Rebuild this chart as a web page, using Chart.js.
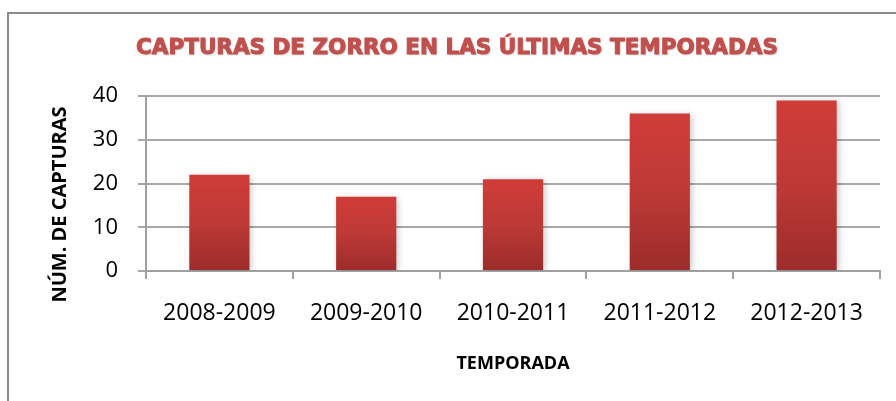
<!DOCTYPE html>
<html>
<head>
<meta charset="utf-8">
<script src="https://cdn.jsdelivr.net/npm/chart.js@4/dist/chart.umd.min.js"></script>
<style>
    body { margin: 0; background: #ffffff; }
    #wrap { position: relative; width: 896px; height: 401px; overflow: hidden; }
    #frame {
        position: absolute; left: 7px; top: 12px; width: 1000px; height: 1000px;
        border-left: 2px solid #8c8c8c; border-top: 2px solid #8c8c8c;
    }
    #capturas-chart { position: absolute; left: 0; top: 0; }
</style>
</head>
<body>
<div id="wrap">
    <div id="frame"></div>
    <canvas id="capturas-chart" width="896" height="401"></canvas>
</div>
<script>
let temporadas = ["2008-2009", "2009-2010", "2010-2011", "2011-2012", "2012-2013"];
let capturas = [22, 17, 21, 36, 39];
let yTicks = [0, 10, 20, 30, 40];

let chartTitle = "CAPTURAS DE ZORRO EN LAS ÚLTIMAS TEMPORADAS";
let yTitle = "NÚM. DE CAPTURAS";
let xTitle = "TEMPORADA";

// degradado por barra: rojo claro arriba, oscuro abajo
function barGradient(context) {
    let chart = context.chart;
    let y = chart.scales.y;
    if (!chart.chartArea || !y) return "#c0392f";
    let top = y.getPixelForValue(context.raw);
    let bottom = y.getPixelForValue(0);
    let g = chart.ctx.createLinearGradient(0, top, 0, bottom);
    g.addColorStop(0, "#d03c38");
    g.addColorStop(0.5, "#bd3936");
    g.addColorStop(1, "#9c2c2a");
    return g;
}

let barShadow = {
    id: "barShadow",
    beforeDatasetsDraw: function (chart) {
        let ctx = chart.ctx;
        ctx.save();
        ctx.shadowColor = "rgba(0,0,0,0.22)";
        ctx.shadowBlur = 6;
        ctx.shadowOffsetX = 2;
        ctx.shadowOffsetY = 1;
    },
    afterDatasetsDraw: function (chart) {
        chart.ctx.restore();
    }
};

// titulos dibujados a mano: el del grafico va algo a la derecha del centro
// y el del eje Y algo por debajo, como en el original
let titles = {
    id: "titles",
    afterDraw: function (chart) {
        let ctx = chart.ctx;
        let area = chart.chartArea;

        ctx.save();
        ctx.font = "bold 21.5px 'DejaVu Sans'";
        ctx.textAlign = "center";
        ctx.textBaseline = "middle";
        ctx.fillStyle = "#c0504d";
        ctx.strokeStyle = "#c0504d";
        ctx.lineWidth = 1;
        ctx.shadowColor = "rgba(0,0,0,0.25)";
        ctx.shadowBlur = 2;
        ctx.shadowOffsetX = 1;
        ctx.shadowOffsetY = 1;
        ctx.fillText(chartTitle, 457, 48);
        ctx.shadowColor = "transparent";
        ctx.strokeText(chartTitle, 457, 48);
        ctx.restore();

        ctx.save();
        ctx.translate(60, (area.top + area.bottom) / 2 + 21);
        ctx.rotate(-Math.PI / 2);
        ctx.font = "bold 20px 'Open Sans'";
        ctx.fillStyle = "#000000";
        ctx.textAlign = "center";
        ctx.textBaseline = "middle";
        ctx.fillText(yTitle, 0, 0);
        ctx.restore();
    }
};

new Chart(document.getElementById("capturas-chart"), {
    type: "bar",
    data: {
        labels: temporadas,
        datasets: [{
            label: "Capturas",
            data: capturas,
            backgroundColor: barGradient,
            borderWidth: 0,
            barPercentage: 0.41,
            categoryPercentage: 1
        }]
    },
    options: {
        responsive: false,
        animation: false,
        devicePixelRatio: 1,
        layout: {
            padding: { left: 0, right: 16, top: 96, bottom: 0 }
        },
        plugins: {
            legend: { display: false },
            tooltip: { enabled: false },
            title: { display: false }
        },
        scales: {
            x: {
                afterFit: function (scale) { scale.height = 130; },
                grid: {
                    display: true,
                    drawOnChartArea: false,
                    drawTicks: true,
                    tickLength: 8,
                    color: "#a0a0a0",
                    lineWidth: 2
                },
                border: { display: true, color: "#a0a0a0", width: 2 },
                ticks: {
                    color: "#000000",
                    padding: 21,
                    maxRotation: 0,
                    font: { family: "'Open Sans'", size: 23 }
                },
                title: {
                    display: true,
                    text: xTitle,
                    color: "#000000",
                    font: { family: "'Open Sans'", size: 18, weight: "bold", lineHeight: 1.2 },
                    padding: { top: 0, bottom: 26 }
                }
            },
            y: {
                min: 0,
                max: 40,
                afterFit: function (scale) { scale.width = 146; },
                afterBuildTicks: function (scale) {
                    scale.ticks = yTicks.map(function (v) { return { value: v }; });
                },
                grid: {
                    color: "#a8a8a8",
                    lineWidth: 2,
                    tickLength: 8
                },
                border: { display: true, color: "#a0a0a0", width: 2 },
                ticks: {
                    color: "#000000",
                    padding: 20,
                    font: { family: "'Open Sans'", size: 22 }
                }
            }
        }
    },
    plugins: [barShadow, titles]
});
</script>
</body>
</html>
